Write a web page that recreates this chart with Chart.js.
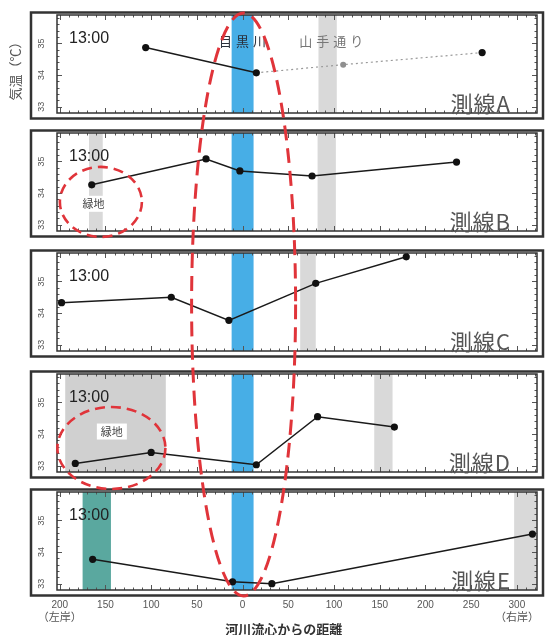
<!DOCTYPE html>
<html>
<head>
<meta charset="utf-8">
<script src="https://cdn.jsdelivr.net/npm/chart.js@4.4.1/dist/chart.umd.min.js"></script>
<style>
  html, body { margin: 0; padding: 0; background: #fff; }
  #wrap { position: relative; width: 546px; height: 635px; overflow: hidden; background: #fff; }
  #wrap canvas { position: absolute; left: 0; }
</style>
</head>
<body>
<div id="wrap"></div>
<script>
// Distance from the river centre line (m); negative values are on the left bank.
const X_TICKS = [-200, -150, -100, -50, 0, 50, 100, 150, 200, 250, 300];
const Y_TICKS = [33, 34, 35];
const X_MIN = -203, X_MAX = 322;
const Y_MIN = 32.8, Y_MAX = 35.9;

const LINE_NAMES = ['測線A', '測線B', '測線C', '測線D', '測線E'];
const TIME_LABEL = '13:00';

// Air temperature (°C) at 13:00 along each survey line
const A_DIST = [-106, 15];
const A_TEMP = [34.87, 34.07];
const A_EXT_DIST = [15, 110, 262];
const A_EXT_TEMP = [34.07, 34.33, 34.71];

const B_DIST = [-165, -40, -3, 76, 234];
const B_TEMP = [34.26, 35.08, 34.70, 34.54, 34.98];

const C_DIST = [-198, -78, -15, 80, 179];
const C_TEMP = [34.33, 34.50, 33.77, 34.94, 35.78];

const D_DIST = [-183, -100, 15, 82, 166];
const D_TEMP = [33.07, 33.42, 33.03, 34.55, 34.22];

const E_DIST = [-164, -11, 32, 317];
const E_TEMP = [33.77, 33.06, 33.00, 34.57];

// Shaded strips: [from, to, kind]
const BANDS_A = [[-12, 12, 'river'], [83, 103, 'road']];
const BANDS_B = [[-168, -153, 'road'], [-12, 12, 'river'], [82, 102, 'road']];
const BANDS_C = [[-12, 12, 'river'], [63, 80, 'road']];
const BANDS_D = [[-194, -84, 'green'], [-12, 12, 'river'], [144, 164, 'road']];
const BANDS_E = [[-175, -144, 'park'], [-12, 12, 'river'], [297, 322, 'road']];

const BAND_COLORS = { river: '#47aee6', road: '#d9d9d9', green: '#d0d0d0', park: '#5aa89f' };
const PANEL_TOP = [12, 130, 250, 371, 489];
const RED = '#e0343a';
const SANS = '"Liberation Sans", "Noto Sans CJK JP", sans-serif';
const CJK = '"Noto Sans CJK JP", sans-serif';

function series(xs, ys) { return xs.map((x, i) => ({ x, y: ys[i] })); }

function mainSet(data) {
  return {
    data, showLine: true, borderColor: '#1a1a1a', borderWidth: 1.5,
    pointRadius: 3.6, pointBackgroundColor: '#111', pointBorderWidth: 0
  };
}

const PANELS = [
  { bands: BANDS_A, sets: [
      mainSet(series(A_DIST, A_TEMP)),
      { data: series(A_EXT_DIST, A_EXT_TEMP), showLine: true, borderColor: '#9a9a9a',
        borderWidth: 1.2, borderDash: [2, 3], pointRadius: [0, 3, 3.6],
        pointBackgroundColor: ['#999', '#8f8f8f', '#111'], pointBorderWidth: 0 }
    ] },
  { bands: BANDS_B, sets: [mainSet(series(B_DIST, B_TEMP))], green: { x: -163, y: 33.66 } },
  { bands: BANDS_C, sets: [mainSet(series(C_DIST, C_TEMP))] },
  { bands: BANDS_D, sets: [mainSet(series(D_DIST, D_TEMP))], green: { x: -143, y: 34.08 } },
  { bands: BANDS_E, sets: [mainSet(series(E_DIST, E_TEMP))] }
];

function makeDecor(p, i, last) {
  return {
    id: 'decor' + i,
    beforeDatasetsDraw(chart) {
      const { ctx, chartArea: a, scales: { x, y } } = chart;
      ctx.save();
      // shaded strips
      p.bands.forEach(([from, to, kind]) => {
        const x0 = Math.max(a.left, x.getPixelForValue(from));
        const x1 = Math.min(a.right, x.getPixelForValue(to));
        ctx.fillStyle = BAND_COLORS[kind];
        ctx.fillRect(x0, a.top, x1 - x0, a.bottom - a.top);
      });
      // inward tick marks on all four sides
      ctx.strokeStyle = '#555';
      ctx.lineWidth = 1;
      ctx.beginPath();
      for (let v = -200; v <= X_MAX; v += 10) {
        const px = Math.round(x.getPixelForValue(v)) + 0.5;
        const len = v % 50 === 0 ? 5 : 2.5;
        ctx.moveTo(px, a.top); ctx.lineTo(px, a.top + len);
        ctx.moveTo(px, a.bottom); ctx.lineTo(px, a.bottom - len);
      }
      for (let k = 0; k <= 14; k++) {
        const v = 33 + k * 0.2;
        const py = Math.round(y.getPixelForValue(v)) + 0.5;
        const len = k % 5 === 0 ? 5 : 2.5;
        ctx.moveTo(a.left, py); ctx.lineTo(a.left + len, py);
        ctx.moveTo(a.right, py); ctx.lineTo(a.right - len, py);
      }
      ctx.stroke();
      // plot frame and outer panel box
      ctx.strokeStyle = '#333';
      ctx.lineWidth = 1.5;
      ctx.strokeRect(a.left, a.top, a.right - a.left, a.bottom - a.top);
      ctx.lineWidth = 2.5;
      ctx.strokeRect(31, 1.5, 512, 106);
      // rotated y tick labels
      ctx.fillStyle = '#555';
      ctx.font = '9px ' + SANS;
      ctx.textAlign = 'center';
      ctx.textBaseline = 'middle';
      Y_TICKS.forEach(v => {
        ctx.save();
        ctx.translate(42, y.getPixelForValue(v));
        ctx.rotate(-Math.PI / 2);
        ctx.fillText(String(v), 0, 0);
        ctx.restore();
      });
      // time stamp
      ctx.fillStyle = '#222';
      ctx.font = '16px ' + SANS;
      ctx.textAlign = 'left';
      ctx.fillText(TIME_LABEL, a.left + 12, a.top + 24);
      // survey line name
      ctx.fillStyle = '#555';
      ctx.font = '22px ' + CJK;
      ctx.letterSpacing = '1px';
      ctx.textAlign = 'right';
      ctx.fillText(LINE_NAMES[i], a.right - 26, a.bottom - 9);
      ctx.letterSpacing = '0px';
      if (i === 0) {
        ctx.font = '13px ' + CJK;
        ctx.textAlign = 'center';
        ctx.letterSpacing = '4px';
        ctx.fillStyle = '#2a2f3a';
        ctx.fillText('目黒川', x.getPixelForValue(0) + 2, a.top + 26);
        ctx.fillStyle = '#777';
        ctx.fillText('山手通り', x.getPixelForValue(97) + 2, a.top + 26);
        ctx.letterSpacing = '0px';
        // y axis title
        ctx.save();
        ctx.translate(15, (a.top + a.bottom) / 2 + 4);
        ctx.rotate(-Math.PI / 2);
        ctx.fillStyle = '#555';
        ctx.font = '13px ' + CJK;
        ctx.fillText('気温（℃）', 0, 0);
        ctx.restore();
      }
      if (p.green) {
        const gx = x.getPixelForValue(p.green.x), gy = y.getPixelForValue(p.green.y);
        ctx.font = '11px ' + CJK;
        ctx.textAlign = 'center';
        const w = ctx.measureText('緑地').width + 8;
        ctx.fillStyle = '#fff';
        ctx.fillRect(gx - w / 2, gy - 8, w, 16);
        ctx.fillStyle = '#444';
        ctx.fillText('緑地', gx, gy);
      }
      if (last) {
        ctx.fillStyle = '#555';
        ctx.font = '11px ' + CJK;
        ctx.textAlign = 'center';
        ctx.fillText('（左岸）', x.getPixelForValue(-200), a.bottom + 27);
        ctx.fillText('（右岸）', x.getPixelForValue(300), a.bottom + 27);
        ctx.fillStyle = '#333';
        ctx.font = 'bold 13px ' + CJK;
        ctx.fillText('河川流心からの距離', x.getPixelForValue(45), a.bottom + 39);
      }
      ctx.restore();
    }
  };
}

const wrap = document.getElementById('wrap');
const charts = [];
PANELS.forEach((p, i) => {
  const top = PANEL_TOP[i];
  const last = i === PANELS.length - 1;
  const cv = document.createElement('canvas');
  const h = last ? 635 - (top - 1) : 109;
  cv.width = 546; cv.height = h;
  cv.style.width = '546px'; cv.style.height = h + 'px';
  cv.style.top = (top - 1) + 'px';
  wrap.appendChild(cv);
  const chart = new Chart(cv, {
    type: 'scatter',
    data: { datasets: p.sets },
    options: {
      responsive: false, animation: false, devicePixelRatio: 1, events: [],
      layout: { padding: { left: 57, right: 9, top: 4, bottom: last ? 0 : 7 } },
      plugins: { legend: { display: false }, tooltip: { enabled: false } },
      scales: {
        x: {
          type: 'linear', min: X_MIN, max: X_MAX, display: last,
          grid: { display: false, drawTicks: false }, border: { display: false },
          afterBuildTicks: s => { s.ticks = X_TICKS.map(v => ({ value: v })); },
          afterFit: s => { s.height = last ? 45 : 0; },
          ticks: {
            autoSkip: false, maxRotation: 0, minRotation: 0, padding: 9,
            color: '#555', font: { size: 10, family: SANS },
            callback: v => String(Math.abs(v))
          }
        },
        y: { type: 'linear', min: Y_MIN, max: Y_MAX, display: false }
      }
    },
    plugins: [makeDecor(p, i, last)]
  });
  charts.push({ chart, offset: top - 1 });
});

// Dashed red highlights drawn over all panels
const ov = document.createElement('canvas');
ov.width = 546; ov.height = 635;
ov.style.top = '0px';
wrap.appendChild(ov);
const octx = ov.getContext('2d');
octx.strokeStyle = RED;
octx.lineWidth = 3;
octx.setLineDash([15, 8]);
const topC = charts[0], botC = charts[charts.length - 1];
const cx = topC.chart.scales.x.getPixelForValue(0) + 1;
const yTop = topC.offset + topC.chart.chartArea.top - 2;
const yBot = botC.offset + botC.chart.chartArea.bottom + 6;
octx.beginPath();
octx.ellipse(cx, (yTop + yBot) / 2, 52, (yBot - yTop) / 2, 0, 0, Math.PI * 2);
octx.stroke();

octx.lineWidth = 2.6;
octx.setLineDash([10, 6]);
[[1, -155, 33.72, 41, 35], [3, -143.5, 33.56, 54, 41]].forEach(([k, vx, vy, rx, ry]) => {
  const c = charts[k];
  const px = c.chart.scales.x.getPixelForValue(vx);
  const py = c.offset + c.chart.scales.y.getPixelForValue(vy);
  octx.beginPath();
  octx.ellipse(px, py, rx, ry, 0, 0, Math.PI * 2);
  octx.stroke();
});
</script>
</body>
</html>
